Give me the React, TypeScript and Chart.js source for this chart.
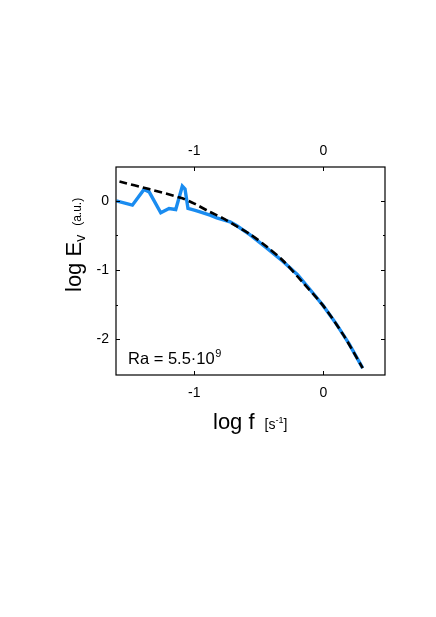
import React, { useEffect, useRef } from "react";
import { Chart, registerables } from "chart.js";

Chart.register(...registerables);

const X_MIN = -1.607;
const X_MAX = 0.478;
const Y_MIN = -2.52;
const Y_MAX = 0.49;

const xTickValues = [-1, 0];
const yTickValues = [-2, -1, 0];
const yMinorTickValues = [-1.5, -0.5];

const spectrumX = [-1.605, -1.48, -1.39, -1.35, -1.26, -1.196, -1.144, -1.093, -1.072, -1.049, -1.0, -0.956, -0.878, -0.826, -0.723, -0.67, -0.57, -0.44, -0.31, -0.2, -0.1, 0.0, 0.1, 0.2, 0.305];
const spectrumY = [0.0, -0.062, 0.165, 0.13, -0.173, -0.11, -0.125, 0.212, 0.17, -0.11, -0.135, -0.159, -0.207, -0.246, -0.303, -0.36, -0.49, -0.68, -0.88, -1.07, -1.29, -1.52, -1.78, -2.07, -2.42];

const fitX = [-1.58, -1.35, -1.1, -1.0, -0.88, -0.78, -0.67, -0.57, -0.44, -0.31, -0.16, 0.0, 0.155, 0.305];
const fitY = [0.28, 0.17, 0.04, -0.04, -0.16, -0.25, -0.37, -0.48, -0.66, -0.87, -1.18, -1.52, -1.94, -2.42];

const FONT = '"Liberation Sans", Arial, Helvetica, sans-serif';

const framePlugin = {
  id: "frameTicks",
  afterDraw(chart: any) {
    const { ctx, chartArea } = chart;
    const { left, right, top, bottom } = chartArea;
    const xs = chart.scales.x;
    const ys = chart.scales.y;
    ctx.save();
    ctx.strokeStyle = "#000";
    ctx.lineWidth = 1.2;
    ctx.strokeRect(left, top, right - left, bottom - top);
    ctx.lineWidth = 1;
    ctx.beginPath();
    for (const v of yTickValues) {
      const p = Math.round(ys.getPixelForValue(v)) + 0.5;
      ctx.moveTo(left, p); ctx.lineTo(left + 4, p);
      ctx.moveTo(right, p); ctx.lineTo(right - 4, p);
    }
    for (const v of yMinorTickValues) {
      const p = Math.round(ys.getPixelForValue(v)) + 0.5;
      ctx.moveTo(left, p); ctx.lineTo(left + 2, p);
      ctx.moveTo(right, p); ctx.lineTo(right - 2, p);
    }
    for (const v of xTickValues) {
      const p = Math.round(xs.getPixelForValue(v)) + 0.5;
      ctx.moveTo(p, bottom); ctx.lineTo(p, bottom - 4);
      ctx.moveTo(p, top); ctx.lineTo(p, top + 4);
    }
    ctx.stroke();

    ctx.fillStyle = "#000";
    ctx.textBaseline = "alphabetic";
    ctx.textAlign = "left";

    // x-axis title
    let x = 213;
    const by = 429;
    ctx.font = `22px ${FONT}`;
    ctx.fillText("log f", x, by);
    x += ctx.measureText("log f").width + 10;
    ctx.font = `14px ${FONT}`;
    ctx.fillText("[s", x, by);
    x += ctx.measureText("[s").width;
    ctx.font = `9px ${FONT}`;
    ctx.fillText("-1", x, by - 6);
    x += ctx.measureText("-1").width;
    ctx.font = `14px ${FONT}`;
    ctx.fillText("]", x, by);

    // y-axis title (rotated)
    ctx.save();
    ctx.translate(81, 292);
    ctx.rotate(-Math.PI / 2);
    let t = 0;
    ctx.font = `22px ${FONT}`;
    ctx.fillText("log E", t, 0);
    t += ctx.measureText("log E").width;
    ctx.font = `14px ${FONT}`;
    ctx.fillText("v", t, 4);
    t += ctx.measureText("v").width + 9;
    ctx.font = `12px ${FONT}`;
    ctx.fillText("(a.u.)", t, 0);
    ctx.restore();

    // annotation
    let ax = 128;
    const ay = 364;
    ctx.font = `16.5px ${FONT}`;
    ctx.fillText("Ra = 5.5\u00B710", ax, ay);
    ax += ctx.measureText("Ra = 5.5\u00B710").width;
    ctx.font = `11px ${FONT}`;
    ctx.fillText("9", ax + 0.5, ay - 7.5);
    ctx.restore();
  },
};

export default function App() {
  const ref = useRef<HTMLCanvasElement | null>(null);

  useEffect(() => {
    if (!ref.current) return;
    const spectrum = spectrumX.map((v, i) => ({ x: v, y: spectrumY[i] }));
    const fit = fitX.map((v, i) => ({ x: v, y: fitY[i] }));
    const tickFont = { family: FONT, size: 14 };
    const chart = new Chart(ref.current, {
      type: "scatter",
      data: {
        datasets: [
          {
            label: "fit",
            data: fit,
            showLine: true,
            borderColor: "#000000",
            borderWidth: 2.6,
            borderDash: [8, 4],
            pointRadius: 0,
            tension: 0.3,
            fill: false,
          },
          {
            label: "spectrum",
            data: spectrum,
            showLine: true,
            borderColor: "#1a8cf0",
            borderWidth: 3.4,
            pointRadius: 0,
            tension: 0,
            fill: false,
          },
        ],
      },
      options: {
        responsive: false,
        animation: false,
        layout: { padding: 0 },
        plugins: { legend: { display: false }, tooltip: { enabled: false } },
        scales: {
          x: {
            type: "linear",
            position: "bottom",
            min: X_MIN,
            max: X_MAX,
            grid: { display: false, drawTicks: false },
            border: { display: false },
            ticks: { font: tickFont, color: "#000", padding: 9.5, maxRotation: 0 },
            afterBuildTicks: (s: any) => { s.ticks = xTickValues.map((v) => ({ value: v })); },
            afterFit: (s: any) => { s.height = 242; },
          },
          x2: {
            type: "linear",
            position: "top",
            min: X_MIN,
            max: X_MAX,
            grid: { display: false, drawTicks: false },
            border: { display: false },
            ticks: { font: tickFont, color: "#000", padding: 7, maxRotation: 0 },
            afterBuildTicks: (s: any) => { s.ticks = xTickValues.map((v) => ({ value: v })); },
            afterFit: (s: any) => { s.height = 167; },
          },
          y: {
            type: "linear",
            position: "left",
            min: Y_MIN,
            max: Y_MAX,
            grid: { display: false, drawTicks: false },
            border: { display: false },
            ticks: { font: tickFont, color: "#000", padding: 7 },
            afterBuildTicks: (s: any) => { s.ticks = yTickValues.map((v) => ({ value: v })); },
            afterFit: (s: any) => { s.width = 116; },
          },
          y2: {
            type: "linear",
            position: "right",
            min: Y_MIN,
            max: Y_MAX,
            grid: { display: false, drawTicks: false },
            border: { display: false },
            ticks: { display: false },
            afterFit: (s: any) => { s.width = 51; },
          },
        },
      },
      plugins: [framePlugin],
    });
    return () => chart.destroy();
  }, []);

  return (
    <div style={{ position: "fixed", left: 0, top: 0, width: 436, height: 617, background: "#fff" }}>
      <canvas ref={ref} width={436} height={617} style={{ display: "block", width: 436, height: 617 }} />
    </div>
  );
}
